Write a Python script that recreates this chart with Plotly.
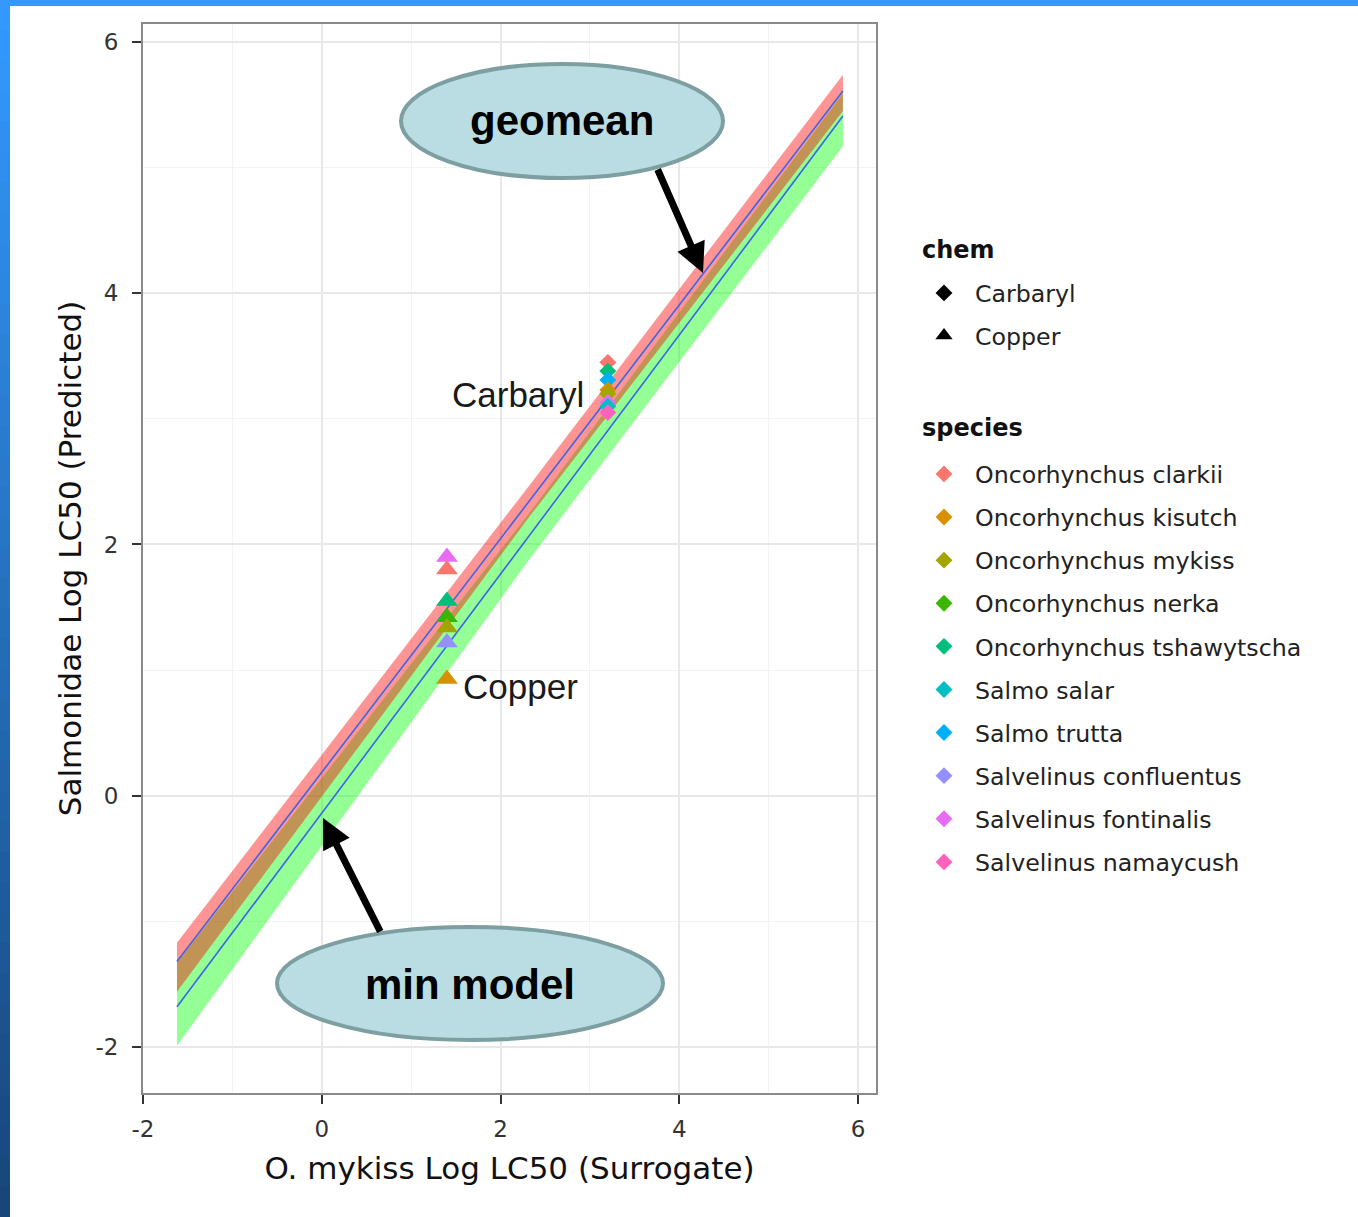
import plotly.graph_objects as go

# ---------------- data ----------------
species = ["Oncorhynchus clarkii", "Oncorhynchus kisutch", "Oncorhynchus mykiss",
           "Oncorhynchus nerka", "Oncorhynchus tshawytscha", "Salmo salar",
           "Salmo trutta", "Salvelinus confluentus", "Salvelinus fontinalis",
           "Salvelinus namaycush"]
species_colors = ["#F8766D", "#D89000", "#A3A500", "#39B600", "#00BF7D",
                  "#00BFC4", "#00B0F6", "#9590FF", "#E76BF3", "#FF62BC"]
chems = ["Carbaryl", "Copper"]
chem_symbols = ["diamond", "triangle-up"]

# surrogate (O. mykiss) log LC50 per chemical
surrogate_x = {"Carbaryl": 3.2, "Copper": 1.4}

# predicted Salmonidae log LC50 per chemical and species
carbaryl_species = ["Oncorhynchus clarkii", "Oncorhynchus tshawytscha", "Salmo trutta",
                    "Oncorhynchus kisutch", "Oncorhynchus mykiss", "Salvelinus fontinalis",
                    "Salmo salar", "Salvelinus namaycush"]
carbaryl_y = [3.45, 3.38, 3.31, 3.23, 3.20, 3.13, 3.10, 3.05]
copper_species = ["Salvelinus fontinalis", "Oncorhynchus clarkii", "Oncorhynchus tshawytscha",
                  "Oncorhynchus nerka", "Oncorhynchus mykiss", "Salvelinus confluentus",
                  "Oncorhynchus kisutch"]
copper_y = [1.90, 1.80, 1.55, 1.42, 1.34, 1.22, 0.93]

# model fits and ribbons
band_x = [-1.62, 2.3, 5.83]
geomean_fit = [-1.32, 2.33, 5.61]
geomean_upper = [-1.17, 2.45, 5.74]
geomean_lower = [-1.56, 2.20, 5.45]
minmodel_fit = [-1.68, 2.05, 5.41]
minmodel_upper = [-1.33, 2.23, 5.59]
minmodel_lower = [-1.99, 1.86, 5.17]

x_ticks = [-2, 0, 2, 4, 6]
y_ticks = [-2, 0, 2, 4, 6]
x_minor = [-1, 1, 3, 5]
y_minor = [-1, 1, 3, 5]

# ---------------- layout geometry ----------------
W, H = 1358, 1217
L, R, T, B = 143, 876, 24, 1093
XR = [-2.0, 6.2]
YR = [-2.366, 6.143]


def px(xp):
    return (xp - L) / (R - L)


def py(yp):
    return (B - yp) / (B - T)


def dx(xp):
    return XR[0] + (xp - L) / (R - L) * (XR[1] - XR[0])


def dy(yp):
    return YR[1] - (yp - T) / (B - T) * (YR[1] - YR[0])


fig = go.Figure()

# ribbons
fig.add_trace(go.Scatter(x=band_x + band_x[::-1], y=minmodel_upper + minmodel_lower[::-1],
                         fill="toself", fillcolor="rgba(0,255,0,0.42)", line=dict(width=0),
                         mode="lines", showlegend=False, hoverinfo="skip"))
fig.add_trace(go.Scatter(x=band_x + band_x[::-1], y=geomean_upper + geomean_lower[::-1],
                         fill="toself", fillcolor="rgba(255,0,0,0.42)", line=dict(width=0),
                         mode="lines", showlegend=False, hoverinfo="skip"))
for fit in (geomean_fit, minmodel_fit):
    fig.add_trace(go.Scatter(x=band_x, y=fit, mode="lines",
                             line=dict(color="#3a66e8", width=1.6),
                             showlegend=False, hoverinfo="skip"))

# points
for chem, sp_list, yv in (("Carbaryl", carbaryl_species, carbaryl_y),
                          ("Copper", copper_species, copper_y)):
    sym = chem_symbols[chems.index(chem)]
    size = 13 if sym == "diamond" else 19
    for s, v in zip(sp_list, yv):
        fig.add_trace(go.Scatter(x=[surrogate_x[chem]], y=[v], mode="markers",
                                 marker=dict(symbol=sym, size=size,
                                             color=species_colors[species.index(s)]),
                                 showlegend=False, name=s))

# legend: chem
for i, (c, sym) in enumerate(zip(chems, chem_symbols)):
    fig.add_trace(go.Scatter(x=[None], y=[None], mode="markers", name=c,
                             marker=dict(symbol=sym, size=13 if sym == "diamond" else 15,
                                         color="black"),
                             legend="legend", legendgroup="c%d" % i))
# legend: species
for i, (s, col) in enumerate(zip(species, species_colors)):
    fig.add_trace(go.Scatter(x=[None], y=[None], mode="markers", name=s,
                             marker=dict(symbol="diamond", size=13, color=col),
                             legend="legend2", legendgroup="s%d" % i))

# legend titles
for (txt, ypx) in (("chem", 250), ("species", 428)):
    fig.add_annotation(xref="paper", yref="paper", x=px(920), y=py(ypx), text=txt,
                       showarrow=False, xanchor="left", yanchor="middle",
                       font=dict(family="DejaVu Sans", size=24, color="#111111", weight="bold"))

# in-plot labels
fig.add_annotation(x=2.96, y=3.19, text="Carbaryl", showarrow=False, xanchor="right",
                   font=dict(family="Liberation Sans, Arial", size=35, color="#1a1a1a"))
fig.add_annotation(x=1.56, y=0.87, text="Copper", showarrow=False, xanchor="left",
                   font=dict(family="Liberation Sans, Arial", size=35, color="#1a1a1a"))

# callout ellipses
shapes = []
for (x0, x1, y0, y1) in ((401, 723, 64, 178), (277, 663, 927, 1040)):
    shapes.append(dict(type="circle", xref="paper", yref="paper",
                       x0=px(x0), x1=px(x1), y0=py(y1), y1=py(y0),
                       fillcolor="#b9dde3", line=dict(color="#7e9fa1", width=4),
                       layer="above"))

# page border decoration (blue frame)
shapes.append(dict(type="rect", xref="paper", yref="paper", x0=px(0), x1=px(W),
                   y0=py(6), y1=py(0), fillcolor="#3399ff", line=dict(width=0), layer="above"))
nseg = 40
c0 = (51, 153, 255)
c1 = (24, 70, 122)
for i in range(nseg):
    t = i / (nseg - 1)
    col = "rgb(%d,%d,%d)" % tuple(round(a + (b - a) * t) for a, b in zip(c0, c1))
    shapes.append(dict(type="rect", xref="paper", yref="paper", x0=px(0), x1=px(10),
                       y0=py(H * (i + 1) / nseg + 1), y1=py(H * i / nseg),
                       fillcolor=col, line=dict(width=0), layer="above"))

for (cx, cy, txt) in ((562, 121, "geomean"), (470, 984, "min model")):
    fig.add_annotation(xref="paper", yref="paper", x=px(cx), y=py(cy), text=txt,
                       showarrow=False, xanchor="center", yanchor="middle",
                       font=dict(family="Liberation Sans, Arial", size=42, color="black",
                                 weight="bold"))

# arrows
for (tail, head) in (((657, 168), (703, 273)), ((381, 933), (323, 818))):
    fig.add_annotation(x=dx(head[0]), y=dy(head[1]), xref="x", yref="y",
                       ax=tail[0] - head[0], ay=tail[1] - head[1],
                       axref="pixel", ayref="pixel", text="", showarrow=True,
                       arrowhead=2, arrowsize=0.85, arrowwidth=7, arrowcolor="black",
                       standoff=0)

tickfont = dict(family="DejaVu Sans", size=23, color="#333333")
titlefont = dict(family="DejaVu Sans", size=31, color="#111111")

fig.update_layout(
    width=W, height=H, autosize=False,
    margin=dict(l=L, r=W - R, t=T, b=H - B),
    paper_bgcolor="white", plot_bgcolor="white",
    shapes=shapes,
    xaxis=dict(range=XR, tickvals=x_ticks, ticktext=[str(v) for v in x_ticks],
               showgrid=True, gridcolor="#e8e8e8", gridwidth=2, zeroline=False,
               minor=dict(tickvals=x_minor, showgrid=True, gridcolor="#f3f3f3", gridwidth=1,
                          ticks=""),
               ticks="outside", ticklen=9, tickwidth=2, tickcolor="#333333",
               ticklabelstandoff=5,
               showline=True, mirror=True, linecolor="#8a8a8a", linewidth=2,
               tickfont=tickfont,
               title=dict(text="O. mykiss Log LC50 (Surrogate)", font=titlefont, standoff=17)),
    yaxis=dict(range=YR, tickvals=y_ticks, ticktext=[str(v) for v in y_ticks],
               showgrid=True, gridcolor="#e8e8e8", gridwidth=2, zeroline=False,
               minor=dict(tickvals=y_minor, showgrid=True, gridcolor="#f3f3f3", gridwidth=1,
                          ticks=""),
               ticks="outside", ticklen=9, tickwidth=2, tickcolor="#333333",
               ticklabelstandoff=9,
               showline=True, mirror=True, linecolor="#8a8a8a", linewidth=2,
               tickfont=tickfont,
               title=dict(text="Salmonidae Log LC50 (Predicted)", font=titlefont, standoff=5)),
    legend=dict(x=px(913), y=py(271), xanchor="left", yanchor="top",
                font=dict(family="DejaVu Sans", size=23.7, color="#222222"),
                itemwidth=52,
                tracegroupgap=8.8, bgcolor="rgba(0,0,0,0)"),
    legend2=dict(x=px(913), y=py(452), xanchor="left", yanchor="top",
                 font=dict(family="DejaVu Sans", size=23.7, color="#222222"),
                 itemwidth=52,
                 tracegroupgap=9.3, bgcolor="rgba(0,0,0,0)"),
)

fig.write_html("out.html", config={"displayModeBar": False},
               post_script="document.body.style.margin='0';"
                           "document.documentElement.style.margin='0';")
